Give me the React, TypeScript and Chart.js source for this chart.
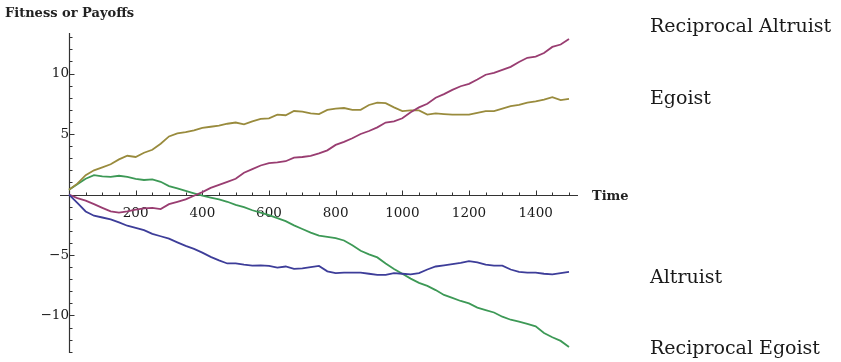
import { useEffect, useRef } from "react";
import { Chart, registerables } from "chart.js";

Chart.register(...registerables);

// Time (x) values at which each series was read
const time = [
  0, 25, 50, 75, 100, 125, 150, 175, 200, 225, 250, 275, 300, 325, 350, 375, 400,
  425, 450, 475, 500, 525, 550, 575, 600, 625, 650, 675, 700, 725, 750, 775, 800,
  825, 850, 875, 900, 925, 950, 975, 1000, 1025, 1050, 1075, 1100, 1125, 1150,
  1175, 1200, 1225, 1250, 1275, 1300, 1325, 1350, 1375, 1400, 1425, 1450, 1475, 1500,
];

const altruist = [
  0, -0.7, -1.4, -1.75, -1.9, -2.05, -2.3, -2.58, -2.75, -2.95, -3.25, -3.45, -3.65,
  -3.95, -4.25, -4.5, -4.8, -5.15, -5.45, -5.7, -5.7, -5.8, -5.88, -5.85, -5.9, -6.05,
  -5.95, -6.15, -6.1, -6.0, -5.9, -6.35, -6.5, -6.45, -6.45, -6.45, -6.55, -6.65, -6.65,
  -6.5, -6.55, -6.6, -6.5, -6.2, -5.95, -5.85, -5.75, -5.65, -5.5, -5.6, -5.8, -5.88,
  -5.88, -6.2, -6.4, -6.45, -6.45, -6.55, -6.6, -6.5, -6.4,
];

const reciprocalAltruist = [
  0, -0.3, -0.5, -0.8, -1.1, -1.4, -1.5, -1.4, -1.25, -1.15, -1.1, -1.2, -0.8, -0.6,
  -0.4, -0.1, 0.2, 0.55, 0.8, 1.05, 1.3, 1.8, 2.1, 2.4, 2.6, 2.65, 2.75, 3.05, 3.1, 3.2,
  3.4, 3.65, 4.1, 4.35, 4.65, 5.0, 5.25, 5.55, 5.95, 6.05, 6.3, 6.8, 7.2, 7.5, 8.0, 8.3,
  8.65, 8.95, 9.15, 9.5, 9.9, 10.05, 10.3, 10.55, 10.95, 11.3, 11.4, 11.7, 12.2, 12.4,
  12.85,
];

const egoist = [
  0.4, 0.9, 1.6, 2.0, 2.25, 2.5, 2.9, 3.2, 3.1, 3.45, 3.7, 4.2, 4.8, 5.05, 5.15, 5.3,
  5.5, 5.6, 5.7, 5.85, 5.95, 5.8, 6.05, 6.25, 6.3, 6.6, 6.55, 6.9, 6.85, 6.7, 6.65, 7.0,
  7.1, 7.15, 7.0, 7.0, 7.4, 7.6, 7.55, 7.2, 6.9, 6.95, 6.95, 6.6, 6.7, 6.65, 6.6, 6.6,
  6.6, 6.75, 6.9, 6.9, 7.1, 7.3, 7.4, 7.6, 7.7, 7.85, 8.05, 7.8, 7.9,
];

const reciprocalEgoist = [
  0.4, 0.85, 1.3, 1.6, 1.5, 1.45, 1.55, 1.45, 1.3, 1.2, 1.25, 1.05, 0.7, 0.5, 0.3, 0.1,
  -0.1, -0.25, -0.4, -0.6, -0.85, -1.05, -1.3, -1.5, -1.7, -1.95, -2.2, -2.55, -2.85,
  -3.15, -3.4, -3.5, -3.6, -3.8, -4.2, -4.65, -4.95, -5.2, -5.7, -6.15, -6.55, -6.95,
  -7.3, -7.55, -7.9, -8.3, -8.55, -8.8, -9.0, -9.35, -9.55, -9.75, -10.1, -10.35, -10.5,
  -10.7, -10.9, -11.45, -11.8, -12.1, -12.6,
];

const seriesNames = ["Altruist", "Reciprocal Altruist", "Egoist", "Reciprocal Egoist"];
const seriesValues = [altruist, reciprocalAltruist, egoist, reciprocalEgoist];
const seriesColors = ["#3d3d99", "#993d71", "#998b3d", "#3d9956"];

const xTickValues = [200, 400, 600, 800, 1000, 1200, 1400];
const yTickValues = [-10, -5, 5, 10];

const yAxisTitle = "Fitness or Payoffs";
const xAxisTitle = "Time";
const sideLabelOrder = ["Reciprocal Altruist", "Egoist", "Altruist", "Reciprocal Egoist"];

const fmt = (v: number) => (v < 0 ? "\u2212" + Math.abs(v) : String(v));

const zeroPadding = (s: any) => {
  s.paddingTop = 0;
  s.paddingBottom = 0;
  s.paddingLeft = 0;
  s.paddingRight = 0;
};

const mmaPlugin = {
  id: "mmaAxes",
  beforeDatasetsDraw(chart: any) {
    const { ctx, chartArea, scales } = chart;
    const xs = scales.x;
    const ys = scales.y;
    const ox = Math.round(xs.getPixelForValue(0)) + 0.5;
    const oy = Math.round(ys.getPixelForValue(0)) + 0.5;
    ctx.save();
    ctx.strokeStyle = "#333";
    ctx.lineWidth = 1.2;
    ctx.beginPath();
    ctx.moveTo(chartArea.left, oy);
    ctx.lineTo(chartArea.right, oy);
    ctx.moveTo(ox, chartArea.top);
    ctx.lineTo(ox, chartArea.bottom);
    ctx.stroke();
    ctx.lineWidth = 1;
    ctx.beginPath();
    for (let t = 50; t <= 1500; t += 50) {
      const px = Math.round(xs.getPixelForValue(t)) + 0.5;
      const len = t % 200 === 0 ? 5 : 3;
      ctx.moveTo(px, oy);
      ctx.lineTo(px, oy - len);
    }
    for (let v = -13; v <= 13; v++) {
      if (v === 0) continue;
      const py = Math.round(ys.getPixelForValue(v)) + 0.5;
      const len = v % 5 === 0 ? 5 : 3;
      ctx.moveTo(ox, py);
      ctx.lineTo(ox + len, py);
    }
    ctx.stroke();
    ctx.restore();
  },
  afterDraw(chart: any) {
    const { ctx, scales } = chart;
    const oy = scales.y.getPixelForValue(0);
    ctx.save();
    ctx.fillStyle = "#222";
    ctx.font = "bold 13px 'DejaVu Serif'";
    ctx.textAlign = "left";
    ctx.textBaseline = "alphabetic";
    ctx.fillText(yAxisTitle, 5, 17);
    ctx.textBaseline = "middle";
    ctx.fillText(xAxisTitle, 592, oy + 2);
    ctx.textBaseline = "alphabetic";
    ctx.font = "19px 'DejaVu Serif'";
    ctx.fillStyle = "#1a1a1a";
    const baselines = [32, 104, 283, 354];
    sideLabelOrder.forEach((name, i) => {
      ctx.fillText(name, 650, baselines[i]);
    });
    ctx.restore();
  },
};

export default function App() {
  const ref = useRef<HTMLCanvasElement | null>(null);
  useEffect(() => {
    if (!ref.current) return;
    const chart = new Chart(ref.current, {
      type: "line",
      data: {
        datasets: seriesNames.map((name, i) => ({
          label: name,
          data: time.map((t, j) => ({ x: t, y: seriesValues[i][j] })),
          borderColor: seriesColors[i],
          backgroundColor: seriesColors[i],
          borderWidth: 1.8,
          pointRadius: 0,
          tension: 0,
          fill: false,
        })),
      },
      options: {
        animation: false,
        responsive: false,
        layout: { padding: { left: 60, right: 263, top: 33, bottom: 9 } },
        plugins: { legend: { display: false }, tooltip: { enabled: false } },
        scales: {
          x: {
            type: "linear",
            position: { y: 0 } as any,
            min: -27,
            max: 1527,
            grid: { display: false, drawTicks: false },
            border: { display: false },
            afterBuildTicks: (s: any) => {
              s.ticks = xTickValues.map((v) => ({ value: v }));
            },
            afterFit: zeroPadding,
            ticks: {
              padding: 11,
              maxRotation: 0,
              autoSkip: false,
              color: "#1a1a1a",
              font: { family: "'DejaVu Serif'", size: 13.5 },
              callback: (v: any) => fmt(Number(v)),
            },
          },
          y: {
            type: "linear",
            position: { x: 0 } as any,
            min: -13.1,
            max: 13.35,
            grid: { display: false, drawTicks: false },
            border: { display: false },
            afterBuildTicks: (s: any) => {
              s.ticks = yTickValues.map((v) => ({ value: v }));
            },
            afterFit: zeroPadding,
            ticks: {
              padding: 9,
              autoSkip: false,
              color: "#1a1a1a",
              font: { family: "'DejaVu Serif'", size: 13.5 },
              callback: (v: any) => fmt(Number(v)),
            },
          },
        },
      },
      plugins: [mmaPlugin],
    });
    return () => chart.destroy();
  }, []);
  return (
    <div style={{ position: "absolute", left: 0, top: 0, width: 841, height: 362, background: "#fff" }}>
      <canvas ref={ref} width={841} height={362} style={{ display: "block" }} />
    </div>
  );
}
